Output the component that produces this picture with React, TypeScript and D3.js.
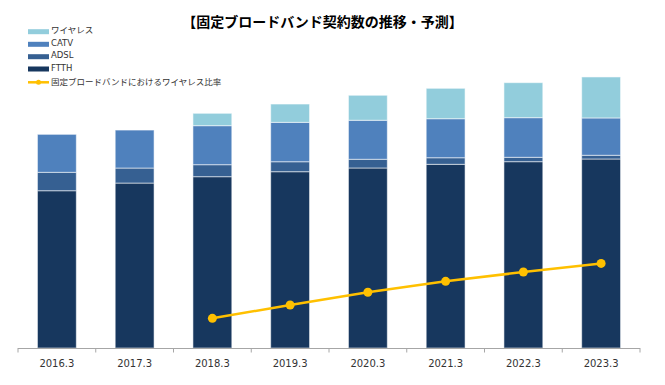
import React from "react";
import * as d3 from "d3";

const categories = ["2016.3", "2017.3", "2018.3", "2019.3", "2020.3", "2021.3", "2022.3", "2023.3"];
const ftth = [28.7, 30.1, 31.26, 32.17, 32.85, 33.52, 34.0, 34.49];
const adsl = [3.36, 2.74, 2.19, 1.82, 1.59, 1.2, 0.8, 0.68];
const catv = [6.93, 6.93, 7.12, 7.19, 7.12, 7.12, 7.23, 6.81];
const wireless = [0, 0, 2.26, 3.34, 4.56, 5.55, 6.39, 7.48];
const wirelessRatio: (number | null)[] = [null, null, 5.3, 7.68, 9.95, 11.9, 13.57, 15.1];

const seriesNames = ["FTTH", "ADSL", "CATV", "ワイヤレス"];
const seriesColors = ["#17375e", "#366092", "#4f81bd", "#92cddc"];
const lineName = "固定ブロードバンドにおけるワイヤレス比率";
const title = "【固定ブロードバンド契約数の推移・予測】";

export default function App() {
  const W = 665, H = 385;
  const left = 18, right = 640, base = 348;
  const x = d3.scaleBand<string>().domain(categories).range([left, right]).paddingInner(0.5).paddingOuter(0.25);
  const y = d3.scaleLinear().domain([0, 50]).range([base, base - 50 * 5.48]);
  const yr = d3.scaleLinear().domain([0, 50]).range([base, base - 50 * 5.6]);

  const rows = categories.map((c, i) => ({ cat: c, s0: ftth[i], s1: adsl[i], s2: catv[i], s3: wireless[i] }));
  const stack = d3.stack<any>().keys(["s0", "s1", "s2", "s3"])(rows);

  const step = x.step();
  const gap = step - x.bandwidth();
  const ticks = categories.map((c) => (x(c) as number) - gap / 2).concat([right]);

  const linePts = categories
    .map((c, i) => ({ c, v: wirelessRatio[i] }))
    .filter((d) => d.v !== null) as { c: string; v: number }[];
  const lineGen = d3
    .line<{ c: string; v: number }>()
    .x((d) => (x(d.c) as number) + x.bandwidth() / 2)
    .y((d) => yr(d.v));

  const legendItems = [
    { name: seriesNames[3], color: seriesColors[3] },
    { name: seriesNames[2], color: seriesColors[2] },
    { name: seriesNames[1], color: seriesColors[1] },
    { name: seriesNames[0], color: seriesColors[0] },
  ];
  const legendY = [31.7, 44.3, 56.7, 69];
  const font = "'DejaVu Sans', 'Noto Sans CJK JP', sans-serif";

  return (
    <svg width={W} height={H} style={{ position: "absolute", left: 0, top: 0, background: "#fff" }}>
      <text x={322.5} y={27} textAnchor="middle" fontSize={14} fontWeight="bold" fontFamily="'Noto Sans CJK JP', sans-serif" fill="#000">
        {title}
      </text>
      {stack.map((layer, li) => (
        <g key={li} fill={seriesColors[li]}>
          {layer.map((d, i) =>
            d[1] - d[0] > 0 ? (
              <rect
                key={i}
                x={x(categories[i])}
                y={y(d[1])}
                width={x.bandwidth()}
                height={y(d[0]) - y(d[1])}
                stroke="#ffffff"
                strokeOpacity={0.55}
                strokeWidth={1}
              />
            ) : null
          )}
        </g>
      ))}
      <line x1={left} x2={right} y1={base + 0.5} y2={base + 0.5} stroke="#a6a6a6" strokeWidth={1} />
      {ticks.map((t, i) => (
        <line key={i} x1={t} x2={t} y1={base} y2={base + 4.5} stroke="#a6a6a6" strokeWidth={1} />
      ))}
      {categories.map((c) => (
        <text key={c} x={(x(c) as number) + x.bandwidth() / 2} y={366.5} textAnchor="middle" fontSize={10} fontFamily={font} fill="#333">
          {c}
        </text>
      ))}
      <path d={lineGen(linePts) || ""} fill="none" stroke="#ffc000" strokeWidth={2.5} />
      {linePts.map((d) => (
        <circle key={d.c} cx={(x(d.c) as number) + x.bandwidth() / 2} cy={yr(d.v)} r={4.5} fill="#ffc000" />
      ))}
      {legendItems.map((it, i) => (
        <g key={it.name}>
          <rect x={28} y={legendY[i] - 2.5} width={21} height={5} fill={it.color} />
          <text x={51} y={legendY[i] + 1.5} fontSize={8.5} fontFamily={font} fill="#333">
            {it.name}
          </text>
        </g>
      ))}
      <line x1={28} x2={49} y1={82.3} y2={82.3} stroke="#ffc000" strokeWidth={2.5} />
      <circle cx={38.5} cy={82.3} r={2.5} fill="#ffc000" />
      <text x={51} y={85.3} fontSize={8.5} fontFamily={font} fill="#333">
        {lineName}
      </text>
    </svg>
  );
}
